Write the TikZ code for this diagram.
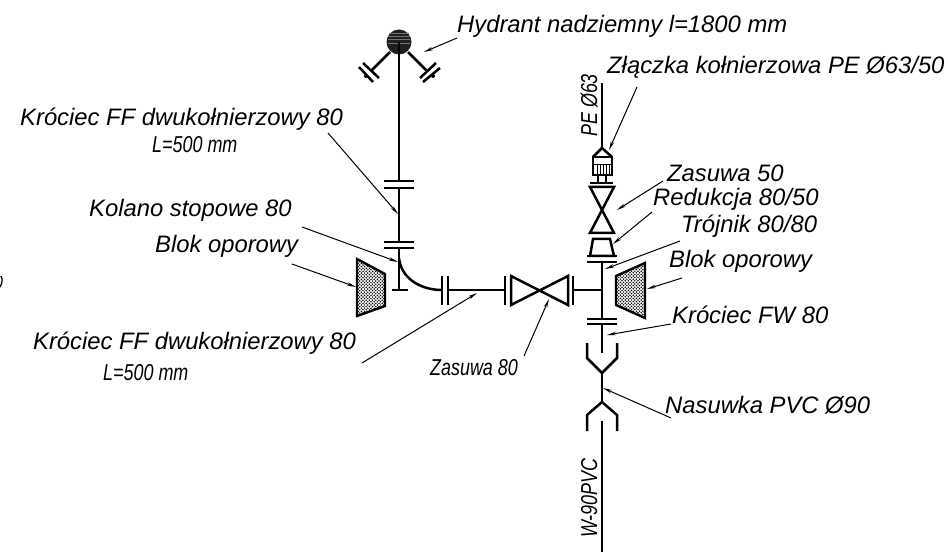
\documentclass[tikz,border=0pt]{standalone}
\usepackage{fontspec}
\setmainfont{Liberation Sans}
\usetikzlibrary{arrows.meta}
\tikzset{
 pipe/.style={line width=2.5pt,line cap=butt,line join=miter},
 leader/.style={line width=1pt,-{Stealth[length=9pt,width=3.5pt]}},
 lab/.style={anchor=base west,inner sep=0pt,font=\fontsize{23.8}{26}\selectfont\itshape},
 labn/.style={anchor=base west,inner sep=0pt,font=\fontsize{23}{26}\selectfont\itshape,xscale=0.78,transform shape},
 labr/.style={anchor=base west,inner sep=0pt,font=\fontsize{23}{26}\selectfont\itshape,rotate=90,xscale=0.78,transform shape},
 block/.style={line width=2.4pt,line join=miter},
}
\begin{document}
\begin{tikzpicture}[x=1pt,y=-1pt]
\useasboundingbox (0,0) rectangle (948,556);
% hydrant
\coordinate (hyd) at (399,42);
\fill[black!88] (hyd) circle (12.5);
\draw[black!55,line width=0.5pt] (388,36)--(410,36) (388,39.5)--(410,39.5) (388,43)--(410,43) (389,33)--(409,33);
\draw[pipe] (399,42)--(399,181) (399,188)--(399,242) (399,248)--(399,290);
\draw[pipe] (392,290)--(408,290);
\draw[pipe] (390,52)--(371,71) (408,52)--(427,71);
\draw[pipe] (359,67)--(373,82) (363,63)--(379,78);
\draw[pipe] (436,63)--(420,78) (440,68)--(423,82);
\fill (366,76) circle (2) (433,76) circle (2);
\draw[pipe] (384,181)--(414,181) (384,188)--(414,188);
\draw[pipe] (384,242)--(414,242) (384,248)--(414,248);
% elbow
\draw[pipe] (399,258) .. controls (401,278) and (420,290) .. (442,290);
\draw[pipe] (442,276)--(442,305) (448,276)--(448,305);
\draw[pipe] (448,290)--(505,290);
\draw[pipe] (505,276)--(505,305);
\draw[pipe] (511,276)--(511,305)--(568,276)--(568,305)--cycle;
\draw[pipe] (573,276)--(573,305);
\draw[pipe] (573,290)--(602,290);
% riser
\draw[pipe] (602,83)--(602,148);
\draw[pipe] (593,157)--(602,148)--(612,157);
\draw[pipe] (593,157) rectangle (612,175);
\draw[line width=1pt] (593,165)--(612,165) (597,165)--(597,175) (600,165)--(600,175) (603,165)--(603,175) (606,165)--(606,175) (609,165)--(609,175);
\draw[pipe] (598,175)--(598,183) (606,175)--(606,183);
\draw[pipe] (590,183)--(613,183);
\draw[pipe] (590,187)--(614,187)--(590,233)--(614,233)--cycle;
\draw[pipe] (593,239)--(610,239)--(614,256)--(590,256)--cycle;
\draw[pipe] (587,256)--(617,256);
\draw[pipe] (587,262)--(617,262);
\draw[pipe] (602,262)--(602,319);
\draw[pipe] (587,319)--(617,319) (587,324)--(617,324);
\draw[pipe] (602,324)--(602,353);
\draw[pipe] (587,343)--(587,358)--(602,373)--(617,358)--(617,343);
\draw[pipe] (602,373)--(602,402);
\draw[pipe] (587,431)--(587,415)--(602,402)--(617,415)--(617,431);
\draw[pipe] (602,421)--(602,552);
% blocks
\begin{scope}
\clip (357,259)--(385,274)--(385,306)--(357,316)--cycle;
\foreach \i in {0,...,10}{\foreach \j in {0,...,22}{
  \fill (355+\i*3.2,257+\j*3.2) circle (0.85);
  \fill (356.6+\i*3.2,258.6+\j*3.2) circle (0.85);
}}
\end{scope}
\draw[block] (357,259)--(385,274)--(385,306)--(357,316)--cycle;
\begin{scope}
\clip (645,263)--(616,276)--(616,305)--(645,318)--cycle;
\foreach \i in {0,...,10}{\foreach \j in {0,...,22}{
  \fill (614+\i*3.2,260+\j*3.2) circle (0.85);
  \fill (615.6+\i*3.2,261.6+\j*3.2) circle (0.85);
}}
\end{scope}
\draw[block] (645,263)--(616,276)--(616,305)--(645,318)--cycle;
% labels
\node[lab] (t1) at (457,33) {Hydrant nadziemny l=1800 mm};
\node[lab] (t2) at (607,74) {Złączka kołnierzowa PE Ø63/50};
\node[lab] (t3) at (667,182) {Zasuwa 50};
\node[lab] (t4) at (653,206) {Redukcja 80/50};
\node[lab] (t5) at (681,233) {Trójnik 80/80};
\node[lab] (t6) at (669,268) {Blok oporowy};
\node[lab] (t7) at (672,323) {Króciec FW 80};
\node[lab] (t8) at (665,413) {Nasuwka PVC Ø90};
\node[lab] (t9) at (20,126) {Króciec FF dwukołnierzowy 80};
\node[labn] (t10) at (152,153) {L=500 mm};
\node[lab] (t11) at (89,217) {Kolano stopowe 80};
\node[lab] (t12) at (155,253) {Blok oporowy};
\node[lab] (t13) at (33,349) {Króciec FF dwukołnierzowy 80};
\node[labn] (t14) at (103,380) {L=500 mm};
\node[labn] (t15) at (430,375) {Zasuwa 80};
\node[labr] (t16) at (597,137) {PE Ø63};
\node[labr] (t17) at (597,538) {W-90PVC};
% leaders
\coordinate (a1) at (457,38);   \coordinate (b1) at (424,52);
\coordinate (a2) at (637,87);   \coordinate (b2) at (609,150);
\coordinate (a3) at (663,181);  \coordinate (b3) at (617,210);
\coordinate (a4) at (652,212);  \coordinate (b4) at (613,244);
\coordinate (a5) at (680,241);  \coordinate (b5) at (605,269);
\coordinate (a6) at (682,278);  \coordinate (b6) at (647,289);
\coordinate (a7) at (671,324);  \coordinate (b7) at (607,335);
\coordinate (a8) at (671,418);  \coordinate (b8) at (603,388);
\coordinate (a9) at (328,133);  \coordinate (b9) at (398,214);
\coordinate (a10) at (302,227); \coordinate (b10) at (398,262);
\coordinate (a11) at (292,264); \coordinate (b11) at (356,287);
\coordinate (a12) at (362,363); \coordinate (b12) at (477,293);
\coordinate (a13) at (524,356); \coordinate (b13) at (549,299);
\foreach \k in {1,...,13}{\draw[leader] (a\k)--(b\k);}
\draw[line width=1.3pt] (1,276) .. controls (3,279) and (2,284) .. (0,287);
\end{tikzpicture}
\end{document}
